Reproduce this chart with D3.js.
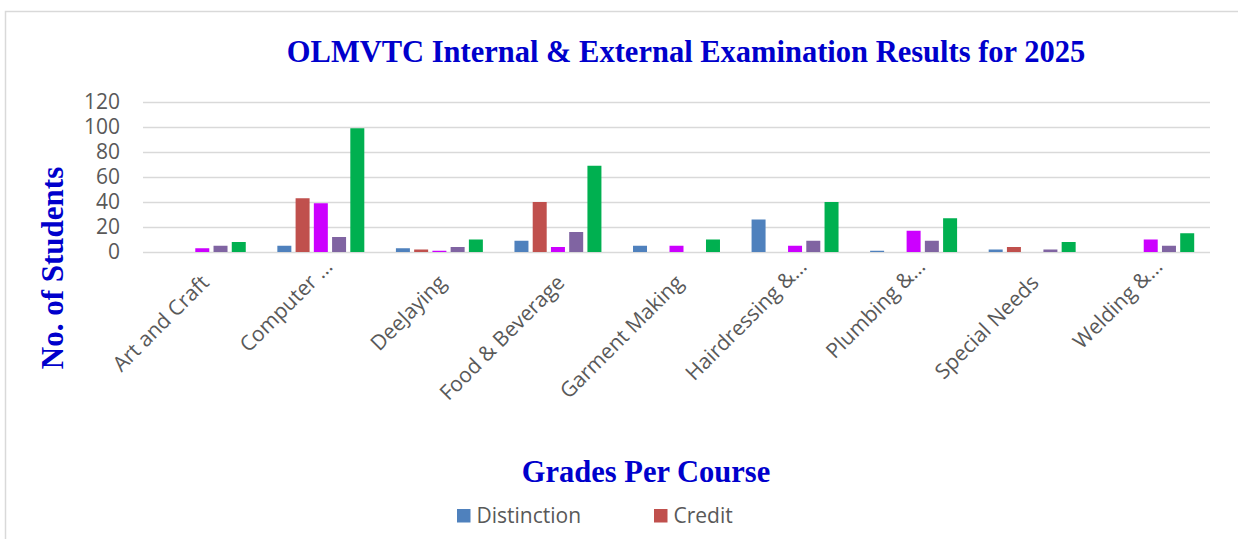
<!DOCTYPE html>
<html>
<head>
<meta charset="utf-8">
<script src="https://cdn.jsdelivr.net/npm/d3@7"></script>
<style>
  html, body { margin: 0; padding: 0; background: #ffffff; overflow: hidden; }
  svg { display: block; }
</style>
</head>
<body>
<svg id="chart" width="1238" height="539"></svg>
<script>
// ---- data ----
const categories = ["Art and Craft", "Computer …", "DeeJaying", "Food & Beverage", "Garment Making",
                    "Hairdressing &…", "Plumbing &…", "Special Needs", "Welding &…"];
const seriesNames = ["Distinction", "Credit", "Merit", "Pass", "Total"];
const distinction = [0, 5, 3, 9, 5, 26, 1, 2, 0];
const credit      = [0, 43, 2, 40, 0, 0, 0, 4, 0];
const merit       = [3, 39, 1, 4, 5, 5, 17, 0, 10];
const pass        = [5, 12, 4, 16, 0, 9, 9, 2, 5];
const total       = [8, 99, 10, 69, 10, 40, 27, 8, 15];
const yTicks      = [0, 20, 40, 60, 80, 100, 120];
const seriesColors = ["#4f81bd", "#c0504d", "#cc00ff", "#8064a2", "#00b050"];
// legend entries visible in the cropped picture
const legendNames = ["Distinction", "Credit"];

const titleText = "OLMVTC Internal & External Examination Results for 2025";
const xTitleText = "Grades Per Course";
const yTitleText = "No. of Students";

const seriesValues = [distinction, credit, merit, pass, total];
const rows = categories.map((c, i) => {
  const r = { category: c };
  seriesNames.forEach((s, k) => { r[s] = seriesValues[k][i]; });
  return r;
});

// ---- layout ----
const svg = d3.select("#chart");
const plot = { left: 143, right: 1210, top: 102, bottom: 252 };
const tickFont = "'Open Sans', sans-serif";
const serif = "'Liberation Serif', 'Times New Roman', serif";
const blue = "#0000cc";

// chart border (only left & top visible in the crop)
svg.append("rect")
  .attr("x", 5.5).attr("y", 11.5)
  .attr("width", 1400).attr("height", 700)
  .attr("fill", "#ffffff").attr("stroke", "#d9d9d9").attr("stroke-width", 1.5);

const x0 = d3.scaleBand().domain(categories).range([plot.left, plot.right]).paddingInner(0).paddingOuter(0);
const x1 = d3.scaleBand().domain(seriesNames).range([0, x0.bandwidth()]).paddingInner(0.233).paddingOuter(0.866);
const y = d3.scaleLinear().domain([0, 120]).range([plot.bottom, plot.top]);
const color = d3.scaleOrdinal().domain(seriesNames).range(seriesColors);

// gridlines
const grid = svg.append("g").attr("transform", `translate(${plot.left},0)`)
  .call(d3.axisLeft(y).tickValues(yTicks).tickSize(-(plot.right - plot.left)).tickFormat(""));
grid.select(".domain").remove();
grid.selectAll("line").attr("stroke", "#d9d9d9").attr("stroke-width", 1.5);

// y axis labels
const yAxis = svg.append("g").attr("transform", `translate(${plot.left},0)`)
  .call(d3.axisLeft(y).tickValues(yTicks).tickSize(0).tickPadding(23));
yAxis.select(".domain").remove();
yAxis.selectAll("text").attr("font-family", tickFont).attr("font-size", 21).attr("fill", "#595959");

// bars
svg.append("g").selectAll("g")
  .data(rows).join("g")
  .attr("transform", d => `translate(${x0(d.category)},0)`)
  .selectAll("rect")
  .data(d => seriesNames.map(s => ({ key: s, value: d[s] })))
  .join("rect")
  .attr("x", d => x1(d.key))
  .attr("width", x1.bandwidth())
  .attr("y", d => y(d.value))
  .attr("height", d => y(0) - y(d.value))
  .attr("fill", d => color(d.key));

// x axis labels
const xAxis = svg.append("g").attr("transform", `translate(0,${plot.bottom})`)
  .call(d3.axisBottom(x0).tickSize(0));
xAxis.select(".domain").remove();
xAxis.selectAll("text")
  .attr("font-family", tickFont).attr("font-size", 21).attr("fill", "#595959")
  .attr("text-anchor", "end").attr("dy", null).attr("y", 0)
  .attr("transform", d => d.endsWith("…") ? "translate(13,16) rotate(-45)" : "translate(8,32) rotate(-45)");

// title
svg.append("text")
  .attr("x", 686).attr("y", 62)
  .attr("text-anchor", "middle")
  .attr("font-family", serif).attr("font-weight", "bold").attr("font-size", 30.5)
  .attr("fill", blue).text(titleText);

// axis titles
svg.append("text")
  .attr("x", 646).attr("y", 482)
  .attr("text-anchor", "middle")
  .attr("font-family", serif).attr("font-weight", "bold").attr("font-size", 30.5)
  .attr("fill", blue).text(xTitleText);

svg.append("text")
  .attr("transform", "translate(63,268) rotate(-90)")
  .attr("text-anchor", "middle")
  .attr("font-family", serif).attr("font-weight", "bold").attr("font-size", 31)
  .attr("fill", blue).text(yTitleText);

// legend
const legItems = svg.append("g").selectAll("g").data(legendNames).join("g")
  .attr("transform", (d, i) => `translate(${457 + i * 197},509)`);
legItems.append("rect").attr("width", 13.5).attr("height", 13.5).attr("fill", d => color(d));
legItems.append("text").attr("x", 19.5).attr("y", 14)
  .attr("font-family", tickFont).attr("font-size", 21).attr("fill", "#595959")
  .text(d => d);
</script>
</body>
</html>
